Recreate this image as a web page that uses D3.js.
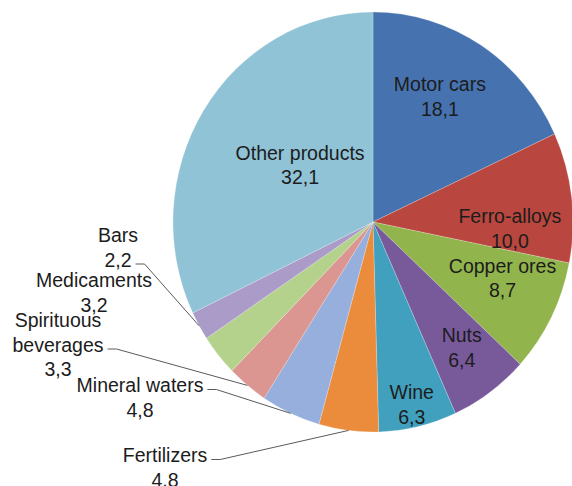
<!DOCTYPE html>
<html>
<head>
<meta charset="utf-8">
<script src="https://cdn.jsdelivr.net/npm/d3@7"></script>
<style>
  html, body { margin: 0; padding: 0; background: #fff; }
  svg { display: block; }
  text { font-family: "Liberation Sans", Arial, sans-serif; font-size: 19.5px; fill: #1c1c1c; }
</style>
</head>
<body>
<svg id="chart" width="572" height="486"></svg>
<script>
// ---- data ----
const categories = ["Motor cars", "Ferro-alloys", "Copper ores", "Nuts", "Wine", "Fertilizers",
  "Mineral waters", "Spirituous beverages", "Medicaments", "Bars", "Other products"];
const values = [18.1, 10.0, 8.7, 6.4, 6.3, 4.8, 4.8, 3.3, 3.2, 2.2, 32.1];
const colors = ["#4673af", "#b9473f", "#92b44c", "#785a9b", "#41a0bd", "#eb8c3c",
  "#96afdc", "#dc9691", "#b4d28c", "#aa9bc8", "#91c3d7"];
const nameLines = [["Motor cars"], ["Ferro-alloys"], ["Copper ores"], ["Nuts"], ["Wine"], ["Fertilizers"],
  ["Mineral waters"], ["Spirituous", "beverages"], ["Medicaments"], ["Bars"], ["Other products"]];

// ---- layout ----
const cx = 373, cy = 222, R = 200, yScale = 1.05;
const lineH = 24.5;
// inside labels: radius and angle nudge (degrees) relative to slice middle
const insideLayout = {0: [137, -3.4], 1: [137, 9.4], 2: [140, -4.6], 3: [149, -0.7], 4: [178, 0.4], 10: [91, 4.6]};
// outside labels: centre x, first line centre y, line index that receives the leader (-1 = none)
const outsideLayout = {5: [165, 455, 0], 6: [140, 385, 0], 7: [58, 320, 1], 8: [94, 280, -1], 9: [118, 235, 1]};

const fmt = v => d3.format(".1f")(v).replace(".", ",");

const svg = d3.select("#chart");
const pie = d3.pie().sort(null).value(d => d);
const arcs = pie(values);
const arc = d3.arc().innerRadius(0).outerRadius(R);

svg.append("defs").append("clipPath").attr("id", "pieclip")
  .append("ellipse").attr("cx", cx).attr("cy", cy).attr("rx", R).attr("ry", R * yScale);

const g = svg.append("g").attr("transform", `translate(${cx},${cy}) scale(1,${yScale})`);
g.selectAll("path").data(arcs).join("path")
  .attr("d", arc)
  .attr("fill", (d, i) => colors[i])
  .attr("stroke", "#ffffff")
  .attr("stroke-opacity", 0.35)
  .attr("stroke-width", 0.6);

function polar(r, angleRad) {
  return [cx + r * Math.sin(angleRad), cy - r * Math.cos(angleRad) * yScale];
}

const labelsG = svg.append("g");

arcs.forEach((d, i) => {
  const lines = nameLines[i].concat([fmt(values[i])]);
  const mid = (d.startAngle + d.endAngle) / 2;
  if (insideLayout[i]) {
    const [r, da] = insideLayout[i];
    const [x, y] = polar(r, mid + da * Math.PI / 180);
    const t = labelsG.append("text").attr("clip-path", "url(#pieclip)").attr("text-anchor", "middle");
    const y0 = y - (lines.length - 1) * lineH / 2;
    lines.forEach((s, k) => {
      t.append("tspan").attr("x", x).attr("y", y0 + k * lineH + 7).text(s);
    });
  } else {
    const [x, y0, attach] = outsideLayout[i];
    const t = labelsG.append("text").attr("text-anchor", "middle");
    const spans = lines.map((s, k) => t.append("tspan").attr("x", x).attr("y", y0 + k * lineH + 7).text(s));
    if (attach >= 0) {
      const w = spans[attach].node().getComputedTextLength();
      const sx = x + w / 2 + 4, sy = y0 + attach * lineH + 4.5;
      const [ex, ey] = polar(R, mid);
      labelsG.append("path")
        .attr("d", d3.line()([[sx, sy], [sx + 9, sy], [ex, ey]]))
        .attr("fill", "none")
        .attr("stroke", "#5a5a5a")
        .attr("stroke-width", 1);
    }
  }
});
</script>
</body>
</html>
